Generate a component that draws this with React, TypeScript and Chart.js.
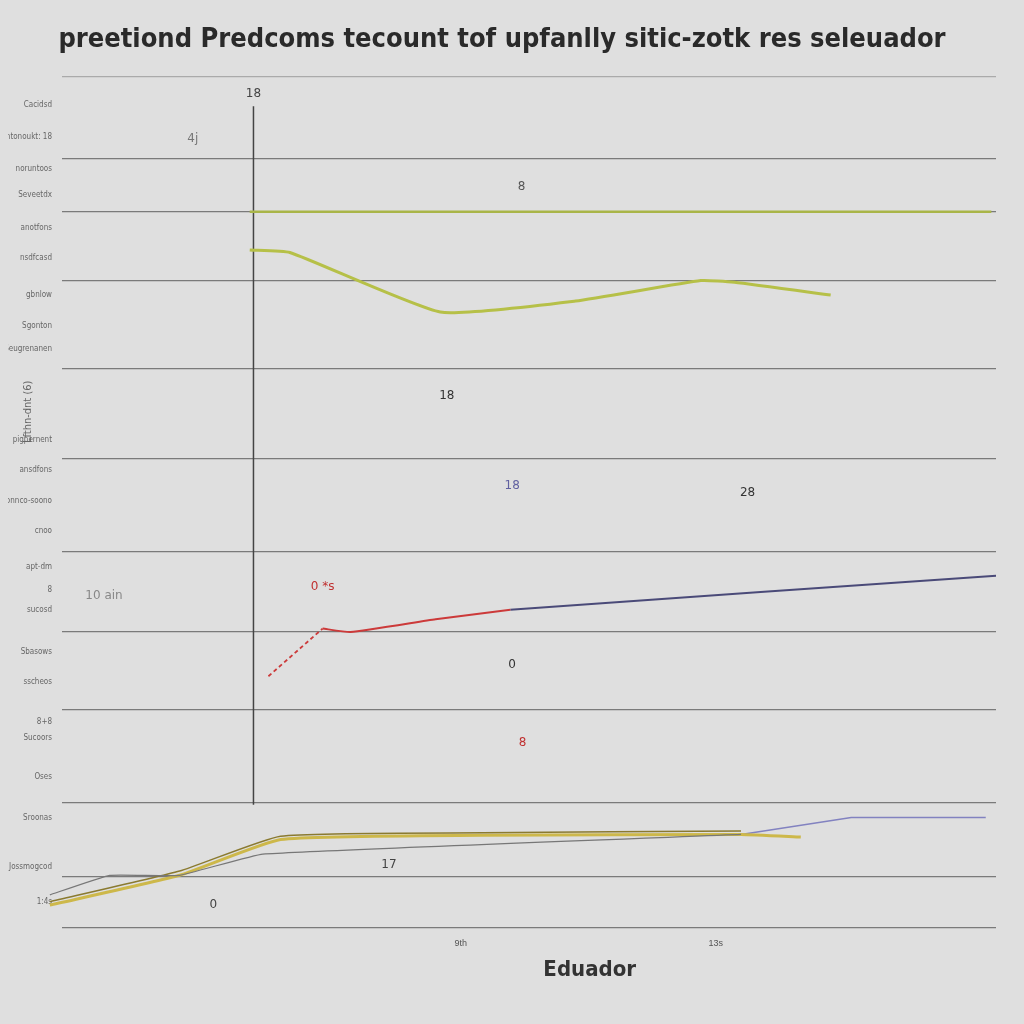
import React, { useEffect, useRef } from "react";
import { Chart, registerables } from "chart.js";

Chart.register(...registerables);

const titleText = "preetiond Predcoms tecount tof upfanlly sitic-zotk res seleuador";
const xAxisTitle = "Eduador";
const yAxisTitle = "Lfthn-dnt (6)";

const gridValues = [100, 90.3, 84.1, 76, 65.6, 55.1, 44.2, 34.7, 25.6, 14.6, 5.9, 0];
const yLabelValues = [96.7, 92.9, 89.1, 86.1, 82.2, 78.7, 74.3, 70.7, 68.0, 57.3, 53.7, 50.1, 46.6, 42.3, 39.6, 37.3, 32.3, 28.8, 24.1, 22.3, 17.7, 12.8, 7.1, 3.0];
const yLabelTexts = ["Cacidsd", "fentonoukt: 18", "noruntoos", "Seveetdx", "anotfons", "nsdfcasd", "gbnlow", "Sgonton", "Seugrenanen", "pigpernent", "ansdfons", "onnco-soono", "cnoo", "apt-dm", "8", "sucosd", "Sbasows", "sscheos", "8+8", "Sucoors", "Oses", "Sroonas", "Jossmogcod", "1:4s"];

const xTickValues = [42.7, 70.0];
const xTickTexts = ["9th", "13s"];

const flatX = [20.1, 99.5];
const flatY = [84.1, 84.1];
const greenX = [20.1, 24.4, 40.5, 55, 68.4, 72, 82.3];
const greenY = [79.6, 79.3, 72.3, 73.6, 76.0, 75.8, 74.3];
const redDashX = [22.1, 27.9];
const redDashY = [29.5, 35.1];
const redX = [27.9, 30.9, 40, 48];
const redY = [35.1, 34.7, 36.2, 37.3];
const navyX = [48, 74.8, 100];
const navyY = [37.3, 39.4, 41.3];
const yellowX = [-1.3, 12.6, 23.4, 45, 72.7, 79.1];
const yellowY = [2.6, 6.1, 10.3, 10.8, 10.9, 10.6];
const oliveX = [-1.3, 12.6, 23.4, 45, 72.7];
const oliveY = [3.0, 6.6, 10.7, 11.1, 11.3];
const grayX = [-1.3, 5.1, 12.6, 21.5, 72.7];
const grayY = [3.8, 6.1, 6.1, 8.6, 10.9];
const blueX = [72.7, 84.5, 98.9];
const blueY = [10.9, 12.9, 12.9];
const vertX = [20.5, 20.5];
const vertY = [96.5, 14.4];

const annX = [20.5, 14.0, 49.2, 41.2, 48.2, 73.4, 48.2, 49.3, 35.0, 16.2, 4.5, 27.9];
const annY = [97.9, 92.7, 87.0, 62.5, 51.9, 51.0, 30.8, 21.7, 7.3, 2.6, 39.0, 40.0];
const annText = ["18", "4j", "8", "18", "18", "28", "0", "8", "17", "0", "10 ain", "0 *s"];
const annColor = ["#444", "#777", "#555", "#333", "#6060a0", "#333", "#333", "#c03030", "#444", "#444", "#888", "#c03030"];

function pts(xs: number[], ys: number[]) {
  return xs.map((x, i) => ({ x, y: ys[i] }));
}

const bgPlugin = {
  id: "bg",
  beforeDraw(chart: any) {
    const c = chart.ctx;
    c.save();
    c.fillStyle = "#dfdfdf";
    c.fillRect(0, 0, chart.width, chart.height);
    c.restore();
  },
};

const annPlugin = {
  id: "ann",
  afterDatasetsDraw(chart: any) {
    const c = chart.ctx;
    const xs = chart.scales.x;
    const ys = chart.scales.y;
    c.save();
    c.font = "12px 'DejaVu Sans', sans-serif";
    c.textAlign = "center";
    c.textBaseline = "middle";
    annText.forEach((t, i) => {
      c.fillStyle = annColor[i];
      c.fillText(t, xs.getPixelForValue(annX[i]), ys.getPixelForValue(annY[i]));
    });
    c.fillStyle = "#333";
    c.font = "bold 22px 'DejaVu Sans Condensed', 'DejaVu Sans', sans-serif";
    c.fillText(xAxisTitle, xs.getPixelForValue(56.5), chart.chartArea.bottom + 43);
    c.translate(28, (chart.chartArea.top + chart.chartArea.bottom) / 2 - 90);
    c.rotate(-Math.PI / 2);
    c.fillStyle = "#666";
    c.font = "11px 'DejaVu Sans Condensed', 'DejaVu Sans', sans-serif";
    c.fillText(yAxisTitle, 0, 0);
    c.restore();
  },
};

export default function App() {
  const ref = useRef<HTMLCanvasElement | null>(null);
  useEffect(() => {
    if (!ref.current) return;
    const line = (data: any, color: string, width: number, extra: any = {}) => ({
      data,
      borderColor: color,
      borderWidth: width,
      pointRadius: 0,
      fill: false,
      clip: false,
      tension: 0.15,
      ...extra,
    });
    const chart = new Chart(ref.current, {
      type: "line",
      data: {
        datasets: [
          line(pts(flatX, flatY), "#a9b548", 2.5, { tension: 0 }),
          line(pts(greenX, greenY), "#b6c048", 3),
          line(pts(redDashX, redDashY), "#cc3a3a", 1.8, { borderDash: [4, 3], tension: 0 }),
          line(pts(redX, redY), "#cc3a3a", 2),
          line(pts(navyX, navyY), "#4a4a78", 2, { tension: 0 }),
          line(pts(grayX, grayY), "#777777", 1.2, { tension: 0.1 }),
          line(pts(oliveX, oliveY), "#8a7a30", 1.5),
          line(pts(yellowX, yellowY), "#cdb84a", 3),
          line(pts(blueX, blueY), "#8282c0", 1.5, { tension: 0 }),
          line(pts(vertX, vertY), "#444444", 1.5, { tension: 0 }),
        ],
      },
      options: {
        animation: false,
        responsive: false,
        maintainAspectRatio: false,
        layout: { padding: { left: 8, right: 28, top: 0, bottom: 72 } },
        plugins: {
          legend: { display: false },
          tooltip: { enabled: false },
          title: {
            display: true,
            text: titleText,
            color: "#2a2a2a",
            font: { size: 27, weight: "bold", family: "'DejaVu Sans Condensed', 'DejaVu Sans', sans-serif" },
            padding: { top: 24, bottom: 20 },
          },
        },
        scales: {
          x: {
            type: "linear",
            min: 0,
            max: 100,
            afterBuildTicks: (axis: any) => {
              axis.ticks = xTickValues.map((v) => ({ value: v }));
            },
            ticks: {
              autoSkip: false,
              color: "#555",
              font: { size: 9 },
              callback: (_v: any, i: number) => xTickTexts[i],
            },
            grid: { display: false },
            border: { display: false },
          },
          y: {
            type: "linear",
            min: 0,
            max: 100,
            position: "left",
            afterBuildTicks: (axis: any) => {
              axis.ticks = gridValues.map((v) => ({ value: v }));
            },
            afterFit: (axis: any) => {
              axis.width = 0;
            },
            ticks: { display: false },
            grid: {
              color: (ctx: any) => (ctx.index === 0 ? "#aaaaaa" : "#7a7a7a"),
              lineWidth: 1.2,
              drawTicks: false,
            },
            border: { display: false },
          },
          yl: {
            type: "linear",
            min: 0,
            max: 100,
            position: "left",
            afterBuildTicks: (axis: any) => {
              axis.ticks = yLabelValues.map((v) => ({ value: v }));
            },
            afterFit: (axis: any) => {
              axis.width = 54;
            },
            ticks: {
              autoSkip: false,
              color: "#666",
              font: { size: 8, family: "'DejaVu Sans Condensed', 'DejaVu Sans', sans-serif" },
              padding: 2,
              callback: (_v: any, i: number) => yLabelTexts[i],
            },
            grid: { display: false },
            border: { display: false },
          },
        },
      },
      plugins: [bgPlugin, annPlugin],
    } as any);
    return () => chart.destroy();
  }, []);
  return (
    <div style={{ position: "fixed", left: 0, top: 0, width: 1024, height: 1024, background: "#dfdfdf" }}>
      <canvas ref={ref} width={1024} height={1024} style={{ display: "block" }} />
    </div>
  );
}
